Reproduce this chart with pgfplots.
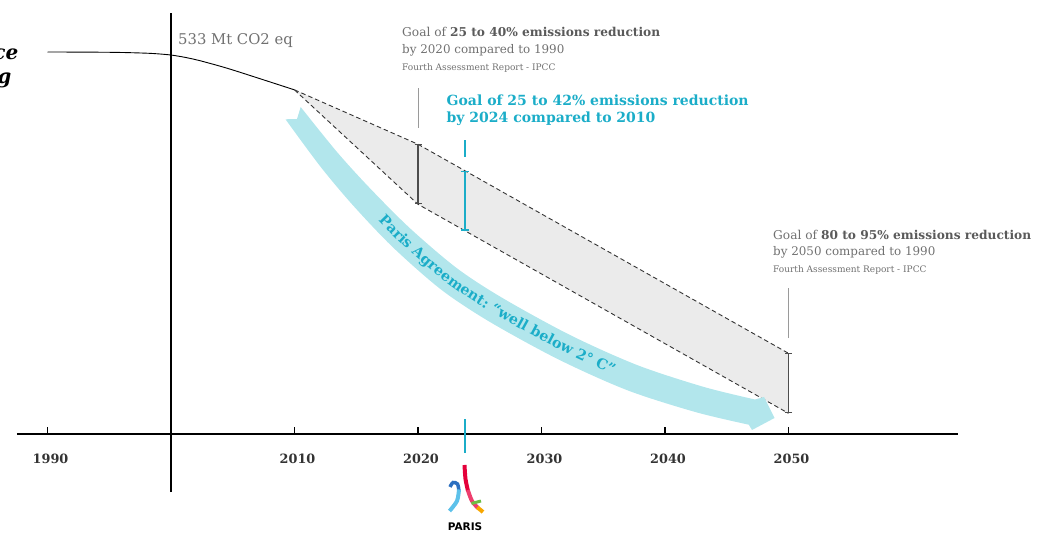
\documentclass[border=0pt]{standalone}
\usepackage{pgfplots}
\pgfplotsset{compat=1.18}
\usepackage{fontspec}
\setmainfont{DejaVu Serif}
\newfontfamily\logofont{DejaVu Sans}
\usetikzlibrary{arrows.meta,decorations.text}

\definecolor{tealT}{HTML}{1BADC8}
\definecolor{arrowC}{HTML}{B2E6EC}
\definecolor{bandG}{HTML}{EBEBEB}
\definecolor{grayT}{HTML}{707070}
\definecolor{grayB}{HTML}{5A5A5A}
\definecolor{barG}{HTML}{4D4D4D}
\definecolor{dashG}{HTML}{333333}
\definecolor{leadG}{HTML}{9A9A9A}
\definecolor{tickT}{HTML}{333333}
\definecolor{logoRed}{HTML}{E4003A}
\definecolor{logoPink}{HTML}{EE3E6E}
\definecolor{logoOrange}{HTML}{F7A600}
\definecolor{logoBlue}{HTML}{2C6FC0}
\definecolor{logoBlueL}{HTML}{5DC1EA}
\definecolor{logoGreen}{HTML}{6DBE45}

\begin{document}
\begin{tikzpicture}
\begin{axis}[
    x=12.35pt, y=0.711pt,
    xmin=1987.53, xmax=2063.72,
    ymin=-81.6, ymax=592.1,
    axis x line=middle, axis y line=none,
    axis line style={-, line width=1.6pt, black},
    xtick={1990,2010,2020,2030,2040,2050},
    xticklabels={1990,2010,2020,2030,2040,2050},
    ytick=\empty,
    major tick length=7pt,
    tick align=inside,
    tick style={black, line width=1.2pt},
    xticklabel style={anchor=base, yshift=-30pt, xshift=3pt,
        font=\bfseries\fontsize{12.8}{14}\selectfont, text=tickT},
    enlargelimits=false,
    clip=false,
]
% range between the two IPCC pathways
\addplot[fill=bandG, draw=none] coordinates {
    (2010,484) (2020,407.5) (2050,113.5) (2050,29.1) (2020,323.1) (2010,484)};
% emissions so far
\addplot[black, line width=0.9pt, smooth] coordinates {
    (1990,537.3) (1994,537.0) (1996,536.6) (1998,535.6) (1999,534.6) (2000,533)
    (2001,530.2) (2002,526.5) (2003,522) (2005,512) (2010,484)};
% pathways
\addplot[dashG, line width=0.9pt, dash pattern=on 4.5pt off 3pt] coordinates {
    (2010,484) (2020,407.5) (2050,113.5)};
\addplot[dashG, line width=0.9pt, dash pattern=on 4.5pt off 3pt] coordinates {
    (2010,484) (2020,323.1) (2050,29.1)};
% vertical line at 2000
\addplot[black, line width=1.5pt] coordinates {(2000,-81.6) (2000,592.1)};
% goal ranges
\addplot[barG, line width=1.5pt, {Bar[width=7pt,line width=1pt]}-{Bar[width=7pt,line width=1pt]}]
    coordinates {(2020,323.1) (2020,407.5)};
\addplot[barG, line width=1.5pt, {Bar[width=7pt,line width=1pt]}-{Bar[width=7pt,line width=1pt]}]
    coordinates {(2050,29.1) (2050,113.5)};
\addplot[tealT, line width=2.8pt, {Bar[width=8pt,line width=1.6pt]}-{Bar[width=8pt,line width=1.6pt]}]
    coordinates {(2023.8,285.9) (2023.8,370.3)};
% leaders
\addplot[leadG, line width=1pt] coordinates {(2020,430.4) (2020,486.6)};
\addplot[leadG, line width=1pt] coordinates {(2050,135) (2050,205.3)};
\addplot[tealT, line width=1.2pt] coordinates {(2023.8,390) (2023.8,413.5)};
\addplot[tealT, line width=1.5pt] coordinates {(2023.8,-26.7) (2023.8,21.1)};
\coordinate (O) at (axis cs:2000,0);
\end{axis}

\pgfresetboundingbox
\begin{scope}[shift={(O)}, xshift=-171pt, yshift=434pt, x=1pt, y=-1pt]
\useasboundingbox (0,0) rectangle (1037,536);

% Paris agreement arrow
\fill[arrowC] (297,119) -- (300.7,107)
  -- plot[smooth] coordinates {(300.7,107) (337,152) (370,188.3) (410,228.3) (457,268.3)
        (503,298.3) (570,335) (637,365) (703,386.7) (755,399.5)}
  -- (764,397) -- (774.5,418) -- (752,430)
  -- plot[smooth] coordinates {(748.8,424.7) (695.6,412.1) (627.2,390.2) (558,359.2)
        (489.3,321.6) (441,289.5) (392.7,247.1) (352.6,204.9) (320.2,166.3) (285.5,119.3)}
  -- cycle;
\path[decorate, decoration={text along path, text align={left indent=29pt}, text color=tealT,
    text={|\bfseries\fontsize{14.3}{16}\selectfont|Paris Agreement: “well below 2° C”}}]
  plot[smooth] coordinates {(358.1,199.7) (398.3,241) (446.3,282.5) (493.9,313.8)
        (562,351.1) (630.5,381.8) (698,403.7)};

% texts
\node[inner sep=0pt, anchor=base east, text=black, font=\bfseries\itshape\fontsize{20}{22}\selectfont] at (18.5,60) {ce};
\node[inner sep=0pt, anchor=base east, text=black, font=\bfseries\itshape\fontsize{20}{22}\selectfont] at (11.5,84) {g};

\node[inner sep=0pt, anchor=base west, text=grayT, font=\fontsize{14.8}{16}\selectfont] at (178,45) {533 Mt CO2 eq};

\node[inner sep=0pt, anchor=base west, text=grayT, font=\fontsize{12.2}{14}\selectfont] at (402,37)
    {Goal of \textcolor{grayB}{\bfseries 25 to 40\% emissions reduction}};
\node[inner sep=0pt, anchor=base west, text=grayT, font=\fontsize{11.9}{14}\selectfont] at (402,53.5)
    {by 2020 compared to 1990};
\node[inner sep=0pt, anchor=base west, text=grayT, font=\fontsize{9}{10}\selectfont] at (402,71)
    {Fourth Assessment Report - IPCC};

\node[inner sep=0pt, anchor=base west, text=tealT, font=\bfseries\fontsize{14}{16}\selectfont] at (446.5,106)
    {Goal of 25 to 42\% emissions reduction};
\node[inner sep=0pt, anchor=base west, text=tealT, font=\bfseries\fontsize{14}{16}\selectfont] at (446.5,123)
    {by 2024 compared to 2010};

\node[inner sep=0pt, anchor=base west, text=grayT, font=\fontsize{12.2}{14}\selectfont] at (773,239.5)
    {Goal of \textcolor{grayB}{\bfseries 80 to 95\% emissions reduction}};
\node[inner sep=0pt, anchor=base west, text=grayT, font=\fontsize{11.9}{14}\selectfont] at (773,256)
    {by 2050 compared to 1990};
\node[inner sep=0pt, anchor=base west, text=grayT, font=\fontsize{9}{10}\selectfont] at (773,273)
    {Fourth Assessment Report - IPCC};

% Paris 2024 logo (rough)
\draw[logoRed, line width=4pt] plot[smooth] coordinates {(464.5,465) (465.5,479) (468,491)};
\draw[logoPink, line width=4pt] plot[smooth] coordinates {(467.8,490) (472,501) (478,508)};
\draw[logoOrange, line width=4pt] (477.3,507.3) -- (483,512);
\draw[logoBlue, line width=3.5pt] plot[smooth] coordinates {(450,487) (453,482.5) (457.5,484) (459,491)};
\draw[logoBlueL, line width=4pt] plot[smooth] coordinates {(459,489.5) (457,501) (449.5,511)};
\draw[logoGreen, line width=3pt] (471.5,503.5) -- (481,501);
\node[inner sep=0pt, anchor=base, text=black, font=\logofont\bfseries\fontsize{10.5}{12}\selectfont] at (465,531) {PARIS};
\end{scope}
\end{tikzpicture}
\end{document}
